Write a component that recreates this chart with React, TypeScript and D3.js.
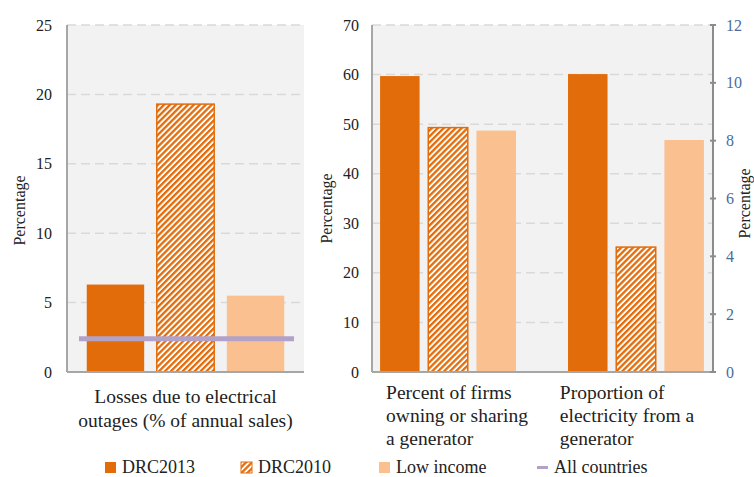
import React, { useEffect, useRef } from 'react';
import * as d3 from 'd3';

// series / categories
const seriesNames = ['DRC2013', 'DRC2010', 'Low income'];
const lossesLabel = ['Losses due to electrical', 'outages (% of annual sales)'];
const lossesValues = [6.3, 19.3, 5.5];
const allCountriesLosses = 2.4;

const generatorCategories = ['firms', 'electricity'];
const generatorLabels = [
    ['Percent of firms', 'owning or sharing', 'a generator'],
    ['Proportion of', 'electricity from a', 'generator'],
];
const drc2013 = [59.7, 60.1];
const drc2010 = [49.3, 25.2];
const lowIncome = [48.7, 46.8];

const leftTicks = [0, 5, 10, 15, 20, 25];
const rightTicks = [0, 10, 20, 30, 40, 50, 60, 70];
const secondaryTicks = [0, 2, 4, 6, 8, 10, 12];

const legendItems = ['DRC2013', 'DRC2010', 'Low income', 'All countries'];

const App: React.FC = () => {
    const svgRef = useRef<SVGSVGElement>(null);

    useEffect(() => {
        if (!svgRef.current) return;
        const svg = d3.select(svgRef.current);
        svg.selectAll('*').remove();

        const font = "'Liberation Serif', 'Times New Roman', Times, 'DejaVu Serif', serif";
        const orange = '#e36c0a';
        const peach = '#fac090';
        const lilac = '#b3a2c7';
        const axisGrey = '#a6a6a6';
        const gridGrey = '#d9d9d9';
        const fills = [orange, 'url(#hatch)', peach];

        // hatch pattern for DRC2010
        const pat = svg.append('defs').append('pattern')
            .attr('id', 'hatch')
            .attr('patternUnits', 'userSpaceOnUse')
            .attr('width', 4.2)
            .attr('height', 4.2)
            .attr('patternTransform', 'rotate(45)');
        pat.append('rect').attr('width', 4.2).attr('height', 4.2).attr('fill', '#fff');
        pat.append('rect').attr('width', 2.3).attr('height', 4.2).attr('fill', orange);

        const top = 25;
        const bottom = 372;

        // ---------- left panel ----------
        const l0 = 67, l1 = 304;
        const yL = d3.scaleLinear().domain([0, 25]).range([bottom, top]);
        const xL = d3.scaleBand<string>().domain(['losses']).range([l0, l1]).paddingOuter(0.1);
        const xLi = d3.scaleBand<string>().domain(seriesNames).range([0, xL.bandwidth()]).paddingInner(0.18);

        svg.append('rect').attr('x', l0).attr('y', top).attr('width', l1 - l0).attr('height', bottom - top).attr('fill', '#f2f2f2');

        svg.append('g').selectAll('line').data(leftTicks.filter(d => d > 0)).join('line')
            .attr('x1', l0).attr('x2', l1)
            .attr('y1', d => yL(d)).attr('y2', d => yL(d))
            .attr('stroke', gridGrey).attr('stroke-width', 1.5).attr('stroke-dasharray', '9,5');

        svg.append('g').selectAll('text').data(leftTicks).join('text')
            .attr('x', 52).attr('y', d => yL(d)).attr('dy', '0.35em')
            .attr('text-anchor', 'end').attr('font-family', font).attr('font-size', 16).attr('fill', '#222')
            .text(d => d);

        svg.append('g').selectAll('rect').data(lossesValues).join('rect')
            .attr('x', (d, i) => (xL('losses') as number) + (xLi(seriesNames[i]) as number))
            .attr('width', xLi.bandwidth())
            .attr('y', d => yL(d))
            .attr('height', d => yL(0) - yL(d))
            .attr('fill', (d, i) => fills[i])
            .attr('stroke', (d, i) => (i === 1 ? orange : 'none'))
            .attr('stroke-width', 1.5);

        svg.append('line')
            .attr('x1', l0 + 12).attr('x2', l1 - 10)
            .attr('y1', yL(allCountriesLosses)).attr('y2', yL(allCountriesLosses))
            .attr('stroke', lilac).attr('stroke-width', 5);

        svg.append('line').attr('x1', l0).attr('x2', l0).attr('y1', top).attr('y2', bottom)
            .attr('stroke', axisGrey).attr('stroke-width', 2);
        svg.append('line').attr('x1', l0).attr('x2', l1).attr('y1', bottom).attr('y2', bottom)
            .attr('stroke', axisGrey).attr('stroke-width', 2);

        svg.append('text')
            .attr('transform', `translate(25,${(top + bottom) / 2 + 12}) rotate(-90)`)
            .attr('text-anchor', 'middle').attr('font-family', font).attr('font-size', 16).attr('fill', '#222')
            .text('Percentage');

        svg.append('g').selectAll('text').data(lossesLabel).join('text')
            .attr('x', (l0 + l1) / 2).attr('y', (d, i) => 403 + i * 24)
            .attr('text-anchor', 'middle').attr('font-family', font).attr('font-size', 19.5).attr('fill', '#222')
            .text(d => d);

        // ---------- right panel ----------
        const r0 = 372, r1 = 712;
        const yR = d3.scaleLinear().domain([0, 70]).range([bottom, top]);
        const yS = d3.scaleLinear().domain([0, 12]).range([bottom, top]);
        const xR = d3.scaleBand<string>().domain(generatorCategories).range([r0, r1])
            .paddingInner(0.277).paddingOuter(0.043);
        const xSlot = d3.scaleBand<string>().domain(generatorCategories).range([r0, r1]);
        const xRi = d3.scaleBand<string>().domain(seriesNames).range([0, xR.bandwidth()]).paddingInner(0.18);

        svg.append('rect').attr('x', r0).attr('y', top).attr('width', r1 - r0).attr('height', bottom - top).attr('fill', '#f2f2f2');

        svg.append('g').selectAll('line').data(rightTicks.filter(d => d > 0)).join('line')
            .attr('x1', r0).attr('x2', r1)
            .attr('y1', d => yR(d)).attr('y2', d => yR(d))
            .attr('stroke', gridGrey).attr('stroke-width', 1.5).attr('stroke-dasharray', '9,5');

        svg.append('g').selectAll('text').data(rightTicks).join('text')
            .attr('x', 359).attr('y', d => yR(d)).attr('dy', '0.35em')
            .attr('text-anchor', 'end').attr('font-family', font).attr('font-size', 16).attr('fill', '#222')
            .text(d => d);

        const series = [drc2013, drc2010, lowIncome];
        series.forEach((vals, s) => {
            svg.append('g').selectAll('rect').data(vals).join('rect')
                .attr('x', (d, i) => (xR(generatorCategories[i]) as number) + (xRi(seriesNames[s]) as number))
                .attr('width', xRi.bandwidth())
                .attr('y', d => yR(d))
                .attr('height', d => yR(0) - yR(d))
                .attr('fill', fills[s])
                .attr('stroke', s === 1 ? orange : 'none')
                .attr('stroke-width', 1.5);
        });

        svg.append('line').attr('x1', r0).attr('x2', r0).attr('y1', top).attr('y2', bottom)
            .attr('stroke', axisGrey).attr('stroke-width', 2);
        svg.append('line').attr('x1', r0).attr('x2', r1 + 4).attr('y1', bottom).attr('y2', bottom)
            .attr('stroke', axisGrey).attr('stroke-width', 2);

        // secondary axis
        svg.append('line').attr('x1', r1 + 1).attr('x2', r1 + 1).attr('y1', top).attr('y2', bottom)
            .attr('stroke', '#8c8c8c').attr('stroke-width', 2);
        svg.append('g').selectAll('line').data(secondaryTicks).join('line')
            .attr('x1', r1 - 2).attr('x2', r1 + 4)
            .attr('y1', d => yS(d)).attr('y2', d => yS(d))
            .attr('stroke', '#8c8c8c').attr('stroke-width', 2);
        svg.append('g').selectAll('text').data(secondaryTicks).join('text')
            .attr('x', 726).attr('y', d => yS(d)).attr('dy', '0.35em')
            .attr('text-anchor', 'start').attr('font-family', font).attr('font-size', 16).attr('fill', '#4a6c9b')
            .text(d => d);

        svg.append('text')
            .attr('transform', `translate(332,${(top + bottom) / 2 + 10}) rotate(-90)`)
            .attr('text-anchor', 'middle').attr('font-family', font).attr('font-size', 16).attr('fill', '#222')
            .text('Percentage');
        svg.append('text')
            .attr('transform', `translate(750,${(top + bottom) / 2 + 5}) rotate(-90)`)
            .attr('text-anchor', 'middle').attr('font-family', font).attr('font-size', 16).attr('fill', '#222')
            .text('Percentage');

        // category labels: left-aligned lines, block centred on the slot
        generatorCategories.forEach((c, ci) => {
            const g = svg.append('g');
            const texts = g.selectAll('text').data(generatorLabels[ci]).join('text')
                .attr('x', 0).attr('y', (d, i) => 399 + i * 23)
                .attr('font-family', font).attr('font-size', 19.5).attr('fill', '#222')
                .text(d => d);
            let w = 0;
            texts.each(function () { w = Math.max(w, (this as SVGTextElement).getComputedTextLength()); });
            const cx = (xSlot(c) as number) + xSlot.bandwidth() / 2;
            g.attr('transform', `translate(${cx - w / 2},0)`);
        });

        // ---------- legend ----------
        const legendX = [105, 241, 379, 537];
        const lg = svg.append('g');
        legendItems.forEach((name, i) => {
            if (i < 3) {
                lg.append('rect').attr('x', legendX[i]).attr('y', 462).attr('width', 11).attr('height', 11)
                    .attr('fill', fills[i])
                    .attr('stroke', i === 1 ? orange : 'none').attr('stroke-width', 1);
            } else {
                lg.append('line').attr('x1', legendX[i]).attr('x2', legendX[i] + 11)
                    .attr('y1', 467.5).attr('y2', 467.5).attr('stroke', lilac).attr('stroke-width', 3);
            }
            lg.append('text').attr('x', legendX[i] + 17).attr('y', 473)
                .attr('font-family', font).attr('font-size', 18).attr('fill', '#222')
                .text(name);
        });
    }, []);

    return (
        <div style={{ position: 'absolute', left: 0, top: 0, background: '#fff' }}>
            <svg ref={svgRef} width={754} height={477} style={{ display: 'block' }} />
        </div>
    );
};

export default App;
